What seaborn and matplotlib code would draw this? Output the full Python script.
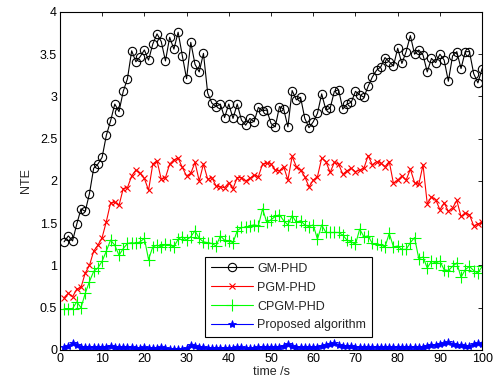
import numpy as np
import pandas as pd
import matplotlib
matplotlib.use("Agg")
import matplotlib.pyplot as plt
import seaborn as sns

time_s = list(range(1, 101))

gm_phd = [1.28, 1.35, 1.29, 1.49, 1.67, 1.64, 1.85, 2.15, 2.20, 2.28,
          2.54, 2.71, 2.91, 2.82, 3.06, 3.21, 3.54, 3.41, 3.47, 3.55,
          3.43, 3.62, 3.74, 3.65, 3.42, 3.70, 3.56, 3.76, 3.48, 3.21,
          3.64, 3.38, 3.29, 3.51, 3.04, 2.92, 2.88, 2.91, 2.75, 2.91,
          2.74, 2.91, 2.72, 2.66, 2.74, 2.70, 2.87, 2.83, 2.84, 2.68,
          2.64, 2.88, 2.85, 2.64, 3.07, 2.96, 2.99, 2.74, 2.63, 2.70,
          2.80, 3.03, 2.84, 2.86, 3.06, 3.08, 2.85, 2.91, 2.93, 3.06,
          3.02, 2.99, 3.12, 3.23, 3.31, 3.35, 3.46, 3.41, 3.36, 3.57,
          3.39, 3.53, 3.72, 3.50, 3.55, 3.49, 3.29, 3.45, 3.40, 3.50,
          3.43, 3.18, 3.48, 3.53, 3.33, 3.53, 3.53, 3.27, 3.16, 3.33]

pgm_phd = [0.62, 0.67, 0.63, 0.72, 0.74, 0.91, 1.00, 1.17, 1.24, 1.33,
           1.52, 1.74, 1.75, 1.71, 1.91, 1.92, 2.06, 2.13, 2.09, 2.03,
           1.89, 2.20, 2.24, 2.02, 2.04, 2.20, 2.25, 2.27, 2.16, 2.06,
           2.09, 2.22, 2.00, 2.20, 2.02, 2.04, 1.94, 1.93, 1.92, 1.98,
           1.91, 2.04, 2.04, 2.00, 2.03, 2.07, 2.05, 2.20, 2.21, 2.20,
           2.13, 2.12, 2.17, 2.01, 2.29, 2.17, 2.13, 2.05, 1.93, 2.01,
           2.05, 2.27, 2.23, 2.10, 2.22, 2.20, 2.08, 2.12, 2.15, 2.11,
           2.13, 2.15, 2.30, 2.19, 2.23, 2.21, 2.17, 2.23, 1.97, 2.01,
           2.06, 2.01, 2.14, 1.98, 1.96, 2.19, 1.73, 1.81, 1.78, 1.66,
           1.74, 1.64, 1.68, 1.77, 1.58, 1.62, 1.60, 1.47, 1.49, 1.51]

cpgm_phd = [0.49, 0.49, 0.49, 0.57, 0.50, 0.67, 0.81, 0.93, 0.97, 1.05,
            1.17, 1.30, 1.24, 1.12, 1.20, 1.26, 1.27, 1.26, 1.28, 1.32,
            1.07, 1.22, 1.24, 1.22, 1.25, 1.24, 1.22, 1.31, 1.34, 1.30,
            1.34, 1.41, 1.32, 1.28, 1.27, 1.26, 1.23, 1.35, 1.30, 1.29,
            1.27, 1.41, 1.45, 1.45, 1.47, 1.48, 1.47, 1.67, 1.51, 1.54,
            1.58, 1.60, 1.53, 1.48, 1.59, 1.51, 1.53, 1.48, 1.46, 1.48,
            1.31, 1.48, 1.39, 1.39, 1.39, 1.39, 1.36, 1.30, 1.28, 1.25,
            1.43, 1.34, 1.35, 1.26, 1.25, 1.24, 1.22, 1.38, 1.22, 1.23,
            1.19, 1.19, 1.27, 1.33, 1.08, 1.10, 0.97, 1.05, 1.03, 1.05,
            0.95, 0.94, 0.99, 1.03, 0.86, 0.95, 0.99, 0.94, 0.91, 0.99]

proposed = [0.03, 0.05, 0.08, 0.06, 0.04, 0.03, 0.03, 0.03, 0.04, 0.03,
            0.04, 0.05, 0.04, 0.03, 0.03, 0.04, 0.03, 0.02, 0.02, 0.03,
            0.02, 0.02, 0.02, 0.03, 0.02, 0.01, 0.01, 0.01, 0.01, 0.02,
            0.06, 0.05, 0.03, 0.03, 0.02, 0.02, 0.02, 0.02, 0.02, 0.02,
            0.02, 0.03, 0.03, 0.02, 0.02, 0.02, 0.03, 0.03, 0.03, 0.03,
            0.04, 0.04, 0.05, 0.07, 0.05, 0.04, 0.03, 0.03, 0.03, 0.04,
            0.04, 0.05, 0.06, 0.07, 0.08, 0.06, 0.05, 0.05, 0.05, 0.04,
            0.04, 0.04, 0.04, 0.03, 0.04, 0.03, 0.03, 0.03, 0.03, 0.03,
            0.03, 0.03, 0.03, 0.03, 0.04, 0.04, 0.05, 0.06, 0.06, 0.07,
            0.08, 0.09, 0.07, 0.06, 0.06, 0.05, 0.05, 0.07, 0.08, 0.07]

series_names = ["GM-PHD", "PGM-PHD", "CPGM-PHD", "Proposed algorithm"]
x_ticks = list(range(0, 101, 10))
y_ticks = [0, 0.5, 1, 1.5, 2, 2.5, 3, 3.5, 4]
y_tick_labels = ["0", "0.5", "1", "1.5", "2", "2.5", "3", "3.5", "4"]

sns.set_theme(style="white")
plt.rcParams["font.family"] = ["Liberation Sans", "DejaVu Sans"]
plt.rcParams["xtick.direction"] = "in"
plt.rcParams["ytick.direction"] = "in"
plt.rcParams["xtick.top"] = True
plt.rcParams["ytick.right"] = True

fig = plt.figure(figsize=(4.95, 3.85), dpi=100)
ax = fig.add_axes([0.121, 0.091, 0.853, 0.878])

df = pd.DataFrame({"t": time_s, series_names[0]: gm_phd, series_names[1]: pgm_phd,
                   series_names[2]: cpgm_phd, series_names[3]: proposed})

styles = {
    "GM-PHD": dict(color="black", marker="o", markersize=6, markerfacecolor="none",
                   markeredgecolor="black", markeredgewidth=0.8),
    "PGM-PHD": dict(color="red", marker="x", markersize=4, markeredgecolor="red",
                    markeredgewidth=0.8),
    "CPGM-PHD": dict(color="#00ff00", marker="+", markersize=8, markeredgecolor="#00ff00",
                     markeredgewidth=0.8),
    "Proposed algorithm": dict(color="blue", marker="*", markersize=6, markeredgecolor="blue",
                               markerfacecolor="blue", markeredgewidth=0.6),
}

for name in series_names:
    sns.lineplot(data=df, x="t", y=name, ax=ax, label=name, linewidth=0.8, **styles[name])

ax.set_xlim(0, 100)
ax.set_ylim(0, 4)
ax.set_xticks(x_ticks)
ax.set_yticks(y_ticks)
ax.set_yticklabels(y_tick_labels)
ax.tick_params(axis="both", labelsize=9, length=3, width=0.6, colors="black", pad=2)
ax.set_xlabel("time /s", fontsize=9, labelpad=1)
ax.set_ylabel("NTE", fontsize=9, labelpad=6)
for sp in ax.spines.values():
    sp.set_color("black")
    sp.set_linewidth(0.8)

leg = ax.legend(loc="lower left", bbox_to_anchor=(0.344, 0.038), fontsize=9,
                frameon=True, fancybox=False, edgecolor="black", framealpha=1,
                handlelength=3.4, borderpad=0.45, labelspacing=0.55, handletextpad=0.3,
                borderaxespad=0)
leg.get_frame().set_linewidth(0.8)

fig.savefig("out.png", dpi=100)
